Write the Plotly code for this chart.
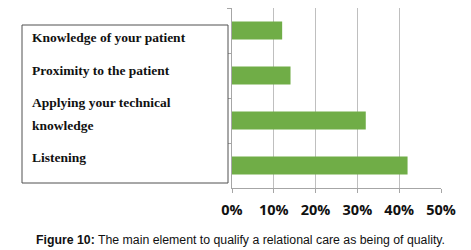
import plotly.graph_objects as go

categories = ["Knowledge of your patient", "Proximity to the patient",
              "Applying your technical knowledge", "Listening"]
values = [0.12, 0.14, 0.32, 0.42]
box_lines = ["Knowledge of your patient", "Proximity to the patient",
             "Applying your technical", "knowledge", "Listening"]
tick_vals = [0, 0.1, 0.2, 0.3, 0.4, 0.5]
tick_text = ["0%", "10%", "20%", "30%", "40%", "50%"]
caption_bold = "Figure 10:"
caption_rest = " The main element to qualify a relational care as being of quality."

W, H = 471, 250
L, R, T, B = 232, 30, 8, 62
pw, ph = W - L - R, H - T - B

fig = go.Figure()
fig.add_trace(go.Bar(
    y=categories, x=values, orientation="h",
    marker=dict(color="#70AD47", line=dict(width=0)),
    width=0.4, hoverinfo="skip",
))

fig.update_layout(
    width=W, height=H,
    margin=dict(l=L, r=R, t=T, b=B),
    paper_bgcolor="white", plot_bgcolor="white",
    showlegend=False,
    xaxis=dict(
        range=[0, 0.5], tickvals=tick_vals, ticktext=tick_text,
        showgrid=True, gridcolor="#BFBFBF", gridwidth=1,
        showline=True, linecolor="#A6A6A6", linewidth=1,
        ticks="outside", ticklen=4, tickcolor="#A6A6A6",
        ticklabelstandoff=5,
        tickfont=dict(family="Open Sans", size=14.5, color="#111111", weight="bold"),
        zeroline=False, fixedrange=True,
    ),
    yaxis=dict(
        categoryorder="array", categoryarray=categories,
        autorange="reversed",
        showticklabels=False,
        showline=True, linecolor="#A6A6A6", linewidth=1,
        ticks="outside", ticklen=4, tickcolor="#A6A6A6",
        tickson="boundaries", showgrid=False, zeroline=False,
        fixedrange=True,
    ),
)


def px_to_paper_x(px):
    return (px - L) / pw


def px_to_paper_y(py):
    return 1 - (py - T) / ph


# left label box
fig.add_shape(type="rect", xref="paper", yref="paper",
              x0=px_to_paper_x(22), x1=px_to_paper_x(228),
              y0=px_to_paper_y(183), y1=px_to_paper_y(25),
              line=dict(color="#505050", width=1), fillcolor="white")

line_y = [37, 70, 102, 125, 157]
for lab, yy in zip(box_lines, line_y):
    fig.add_annotation(xref="paper", yref="paper",
                       x=px_to_paper_x(30), y=px_to_paper_y(yy),
                       xanchor="left", yanchor="middle", align="left",
                       text="<b>" + lab + "</b>", showarrow=False,
                       font=dict(family="Liberation Serif", size=13.5, color="#111111"))

fig.add_annotation(xref="paper", yref="paper",
                   x=px_to_paper_x(240), y=px_to_paper_y(240),
                   xanchor="center", yanchor="middle",
                   text="<b>" + caption_bold + "</b>" + caption_rest,
                   showarrow=False,
                   font=dict(family="Liberation Sans", size=12.3, color="#111111"))

fig.write_html("out.html", config={"displayModeBar": False},
               post_script="document.body.style.margin='0';")
